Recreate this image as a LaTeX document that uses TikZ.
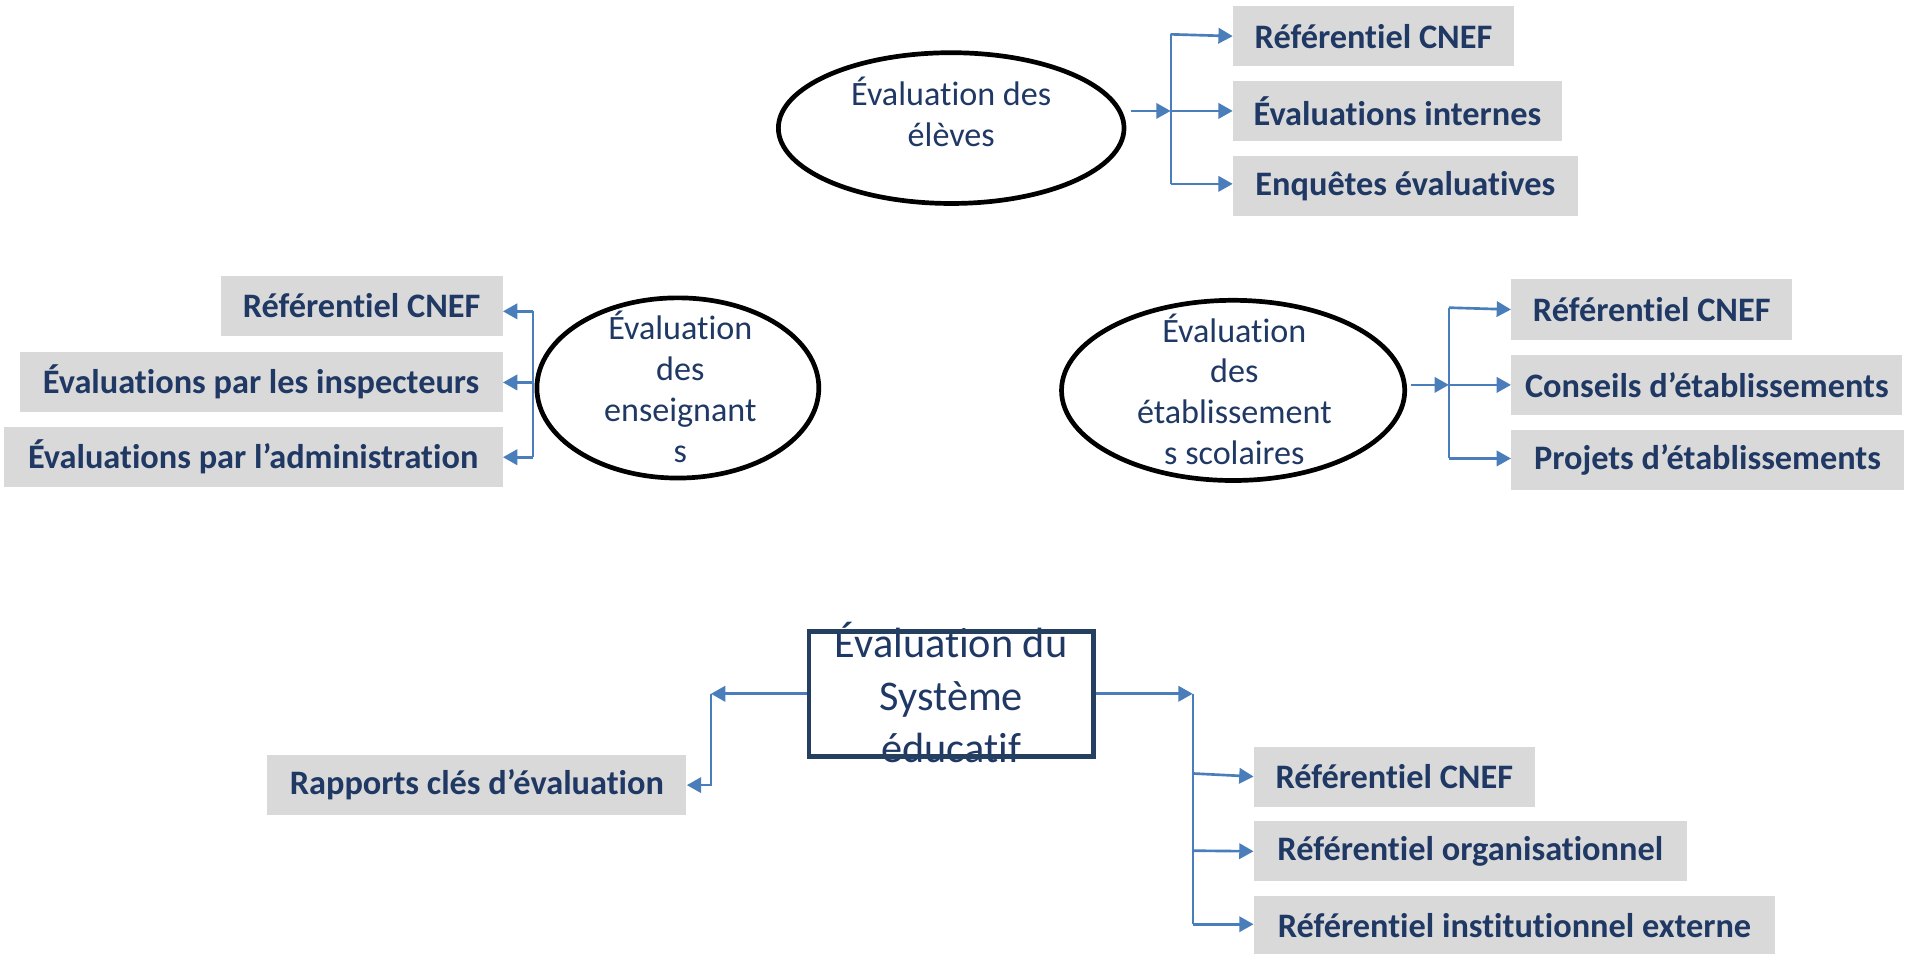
\documentclass[tikz,border=0pt]{standalone}
\usepackage{fontspec}
\setmainfont[Ligatures=CommonOff]{Carlito}
\usetikzlibrary{arrows.meta,shapes.geometric,calc}
\definecolor{txtc}{HTML}{1F3864}
\definecolor{lnkc}{HTML}{4A7EBB}
\definecolor{boxc}{HTML}{D9D9D9}
\definecolor{rectc}{HTML}{243F60}
\begin{document}
\begin{tikzpicture}[x=0.6pt,y=-0.6pt,
  gbox/.style={fill=boxc,text=txtc,font=\fontsize{16.8}{20}\selectfont\bfseries,minimum height=29.4pt,inner sep=0pt,minimum width=#1*0.6pt},
  ell/.style={ellipse,draw=black,line width=2.3pt,inner sep=0pt},
  etxt/.style={text=txtc,font=\fontsize{16.7}{20}\selectfont,align=center,inner sep=0pt},
  arr/.style={draw=lnkc,line width=1.3pt,-{Triangle[length=7pt,width=7.5pt]}},
  conn/.style={draw=lnkc,line width=1pt},
]
\useasboundingbox (0,0) rectangle (1568,778);
\fill[white] (0,0) rectangle (1568,778);

% ---------- top group: eleves
\node[ell,minimum width=282*0.6pt,minimum height=123*0.6pt] (E1) at (776,104.5) {};
\node[etxt] (E1t) at (776,91.5) {Évaluation des\\élèves};
\node[gbox=229] (T1) at (1120.5,29.5) {Référentiel CNEF};
\node[gbox=268] (T2) at (1140,90.5) {Évaluations internes};
\node[gbox=281] (T3) at (1146.5,152) {Enquêtes évaluatives};
\coordinate (s1) at ($(E1.east |- T2.west)+(4,0)$);
\coordinate (j1) at (955,90.5);
\coordinate (j1a) at (955,28);
\coordinate (j1c) at (955,150);
\draw[conn] (j1a) -- (j1c);
\draw[arr] (s1) -- (j1);
\draw[arr] (j1a) -- (T1.west);
\draw[arr] (j1) -- (T2.west);
\draw[arr] (j1c) -- (j1c -| T3.west);

% ---------- left group: enseignants
\node[gbox=230] (L1) at (295,249.5) {Référentiel CNEF};
\node[gbox=394] (L2) at (213,311.5) {Évaluations par les inspecteurs};
\node[gbox=407] (L3) at (206.5,373) {Évaluations par l’administration};
\node[ell,minimum width=230*0.6pt,minimum height=147*0.6pt] (E2) at (553,316.5) {};
\node[etxt] (E2t) at (555,315.5) {Évaluation\\des\\enseignant\\s};
\coordinate (j2a) at (435,254);
\coordinate (j2b) at (435,312);
\coordinate (j2c) at (435,373);
\draw[conn] (j2a) -- (j2c);
\draw[arr] (j2a) -- (j2a -| L1.east);
\draw[arr] (j2b) -- (j2b -| L2.east);
\draw[arr] (j2c) -- (j2c -| L3.east);

% ---------- right group: etablissements
\node[ell,minimum width=280*0.6pt,minimum height=147*0.6pt] (E3) at (1006,318.5) {};
\node[etxt] (E3t) at (1007,317.5) {Évaluation\\des\\établissement\\s scolaires};
\node[gbox=229] (R1) at (1347.5,252.5) {Référentiel CNEF};
\node[gbox=319] (R2) at (1392.5,314) {Conseils d’établissements};
\node[gbox=320] (R3) at (1393,375) {Projets d’établissements};
\coordinate (s3) at ($(E3.east |- R2.west)+(3,0)$);
\coordinate (j3) at (1182,314);
\coordinate (j3a) at (1182,251);
\coordinate (j3c) at (1182,374);
\draw[conn] (j3a) -- (j3c);
\draw[arr] (s3) -- (j3);
\draw[arr] (j3a) -- (R1.west);
\draw[arr] (j3) -- (R2.west);
\draw[arr] (j3c) -- (j3c -| R3.west);

% ---------- bottom: systeme educatif
\node[etxt,font=\fontsize{20.7}{25.5}\selectfont] (E4t) at (776,565) {Évaluation du\\Système\\éducatif};
\node[draw=rectc,line width=2.4pt,minimum width=232*0.6pt,minimum height=102*0.6pt,inner sep=0pt] (E4) at (776,566) {};
\node[gbox=342] (B0) at (389,640.5) {Rapports clés d’évaluation};
\node[gbox=229] (B1) at (1137.5,633.5) {Référentiel CNEF};
\node[gbox=353] (B2) at (1199.5,694.5) {Référentiel organisationnel};
\node[gbox=425] (B3) at (1235.5,755.5) {Référentiel institutionnel externe};
\coordinate (bl) at (580,566);
\draw[arr] (E4.west) -- (bl);
\draw[arr] (bl) |- (B0.east);
\coordinate (br) at (973,566);
\coordinate (bra) at (973,631);
\coordinate (brb) at (973,694);
\coordinate (brc) at (973,754);
\draw[arr] (E4.east) -- (br);
\draw[conn] (br) -- (brc);
\draw[arr] (bra) -- (B1.west);
\draw[arr] (brb) -- (B2.west);
\draw[arr] (brc) -- (brc -| B3.west);
\end{tikzpicture}
\end{document}
